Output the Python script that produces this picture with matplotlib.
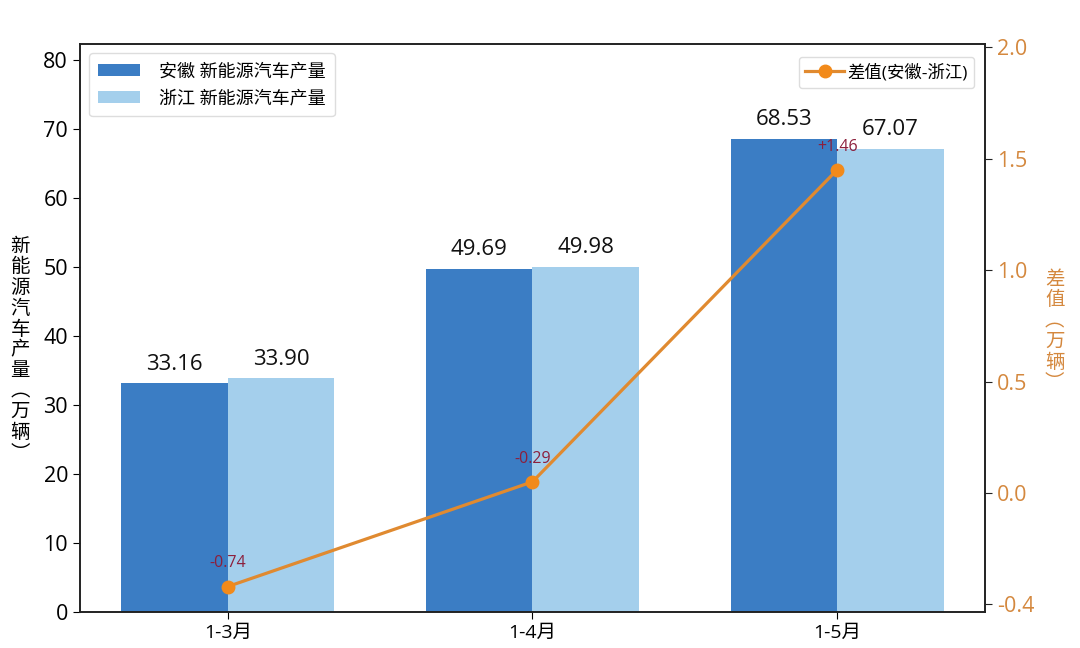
import matplotlib
matplotlib.use("Agg")
import matplotlib.pyplot as plt
import numpy as np

plt.rcParams['font.family'] = ['Open Sans', 'Noto Sans CJK SC', 'DejaVu Sans']
plt.rcParams['axes.unicode_minus'] = False

categories = ["1-3月", "1-4月", "1-5月"]
anhui = [33.16, 49.69, 68.53]
zhejiang = [33.90, 49.98, 67.07]
diff_plotted = [-0.42, 0.05, 1.45]
diff_labels = ["-0.74", "-0.29", "+1.46"]
right_ticks = [-0.5, 0.0, 0.5, 1.0, 1.5, 2.0]
right_tick_labels = ["-0.4", "0.0", "0.5", "1.0", "1.5", "2.0"]

c_dark = "#3b7dc4"
c_light = "#a4cfec"
c_line = "#e08a30"
c_marker = "#f28a1a"
c_right = "#d4883e"
c_lab = "#8c1f3c"

fig = plt.figure(figsize=(10.8, 6.48), dpi=100)
ax = fig.add_axes([0.074, 0.0556, 0.838, 0.876])
x = np.arange(len(categories))
w = 0.35
b1 = ax.bar(x - w / 2, anhui, w, color=c_dark, label="安徽 新能源汽车产量")
b2 = ax.bar(x + w / 2, zhejiang, w, color=c_light, label="浙江 新能源汽车产量")
for bars, vals in ((b1, anhui), (b2, zhejiang)):
    for r, v in zip(bars, vals):
        ax.annotate(f"{v:.2f}", (r.get_x() + r.get_width() / 2, v),
                    xytext=(0, 6), textcoords="offset points",
                    ha="center", va="bottom", fontsize=16, color="#111111")
ax.set_xlim(-0.485, 2.485)
ax.set_ylim(0, 82.2)
ax.set_yticks(range(0, 81, 10))
ax.set_xticks(x)
ax.set_xticklabels(categories, fontsize=14)
ax.tick_params(axis='y', labelsize=15.5, length=5)
ax.tick_params(axis='x', length=5)
ax.set_ylabel("\n".join("新能源汽车产量︵万辆︶"), rotation=0, fontsize=14,
              linespacing=0.98, va="center",
              family=['Noto Sans CJK SC', 'DejaVu Sans'])
ax.yaxis.set_label_coords(-0.066, 0.462)

ax2 = ax.twinx()
ax2.plot(x, diff_plotted, color=c_line, lw=2.3, marker="o", markersize=9,
         markerfacecolor=c_marker, markeredgecolor=c_marker, label="差值(安徽-浙江)")
for xi, yv, t in zip(x, diff_plotted, diff_labels):
    ax2.annotate(t, (xi, yv), xytext=(0, 11), textcoords="offset points",
                 ha="center", va="bottom", fontsize=11.5, color=c_lab)
ax2.set_ylim(-0.534, 2.013)
ax2.set_yticks(right_ticks)
ax2.set_yticklabels(right_tick_labels)
ax2.tick_params(axis='y', labelsize=15.5, length=5, color="#222222")
for t in ax2.get_yticklabels():
    t.set_color(c_right)
ax2.set_ylabel("\n".join("差值︵万辆︶"), rotation=0, fontsize=14, color=c_right,
               linespacing=0.98, va="center",
               family=['Noto Sans CJK SC', 'DejaVu Sans'])
ax2.yaxis.set_label_coords(1.077, 0.495)

for a in (ax, ax2):
    for s in a.spines.values():
        s.set_color("#222222")
        s.set_linewidth(1.2)

ax.legend(loc="upper left", fontsize=13, frameon=True, framealpha=1,
          edgecolor="#dddddd", borderpad=0.5, handlelength=2.3, handletextpad=1.1,
          bbox_to_anchor=(0.0, 1.0))
ax2.legend(loc="upper right", fontsize=12.5, frameon=True, framealpha=1,
           edgecolor="#dddddd", handlelength=2.2, handletextpad=0.2,
           bbox_to_anchor=(0.998, 0.993))

fig.savefig("out.png", dpi=100)
